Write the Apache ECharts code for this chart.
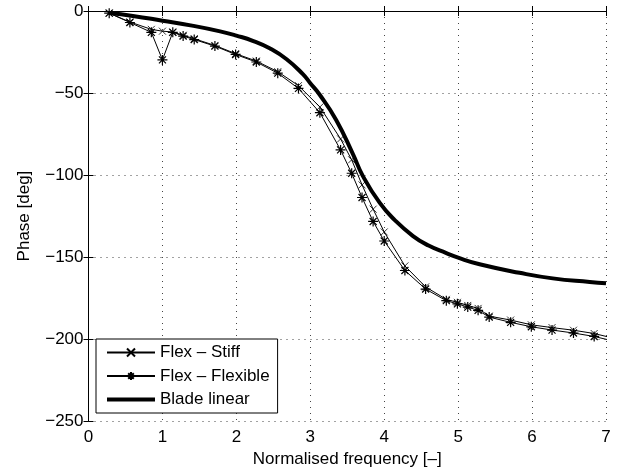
<!DOCTYPE html>
<html>
<head>
<meta charset="utf-8">
<script src="https://cdn.jsdelivr.net/npm/echarts@6/dist/echarts.min.js"></script>
<style>
  html, body { margin: 0; padding: 0; background: #fff; }
  #chart { width: 634px; height: 473px; }
</style>
</head>
<body>
<div id="chart"></div>
<script>
// Normalised frequency at which the two flex models were evaluated
const freq = [0.28, 0.56, 0.85, 1.0, 1.14, 1.28, 1.43, 1.71, 1.99, 2.27, 2.56, 2.84,
  3.13, 3.41, 3.56, 3.70, 3.85, 4.0, 4.28, 4.56, 4.84, 4.99, 5.13, 5.27, 5.42,
  5.71, 5.99, 6.27, 6.56, 6.84, 7.13];

// Phase [deg], stiff-blade flex model
const phaseStiff = [-1.3, -6.7, -11.2, -12.3, -12.8, -14.8, -16.9, -21.0, -26.0, -30.5, -37.0, -45.5,
  -58.5, -78.0, -90.7, -106.0, -120.8, -134.7, -155.4, -168.2, -175.8, -177.6, -179.5, -181.3, -186.0,
  -188.4, -191.3, -193.0, -194.6, -196.6, -199.8];

// Phase [deg], flexible-blade flex model
const phaseFlexible = [-1.3, -7.0, -13.0, -29.8, -13.0, -15.3, -17.4, -21.4, -26.5, -31.1, -37.9, -47.2,
  -62.0, -84.7, -98.9, -113.7, -128.3, -140.2, -158.2, -169.5, -176.6, -178.5, -180.5, -182.5, -186.6,
  -189.8, -192.5, -194.5, -196.3, -198.4, -201.5];

// Linear blade model (smooth response)
const bladeFreq = [0.28, 0.6, 1.0, 1.4, 1.78, 2.0, 2.23, 2.45, 2.68, 2.9, 3.0, 3.13, 3.35, 3.58,
  3.71, 3.94, 4.14, 4.39, 4.6, 4.84, 5.0, 5.29, 5.83, 6.28, 6.78, 7.0];
const bladePhase = [-1.2, -3.0, -5.9, -8.9, -12.4, -15.0, -18.3, -22.7, -29.4, -38.5, -44.0, -51.2,
  -66.4, -87.5, -100.5, -117.0, -127.3, -137.2, -143.0, -147.6, -150.4, -154.4, -159.6, -163.0,
  -165.2, -166.0];

const seriesNames = ['Flex \u2013 Stiff', 'Flex \u2013 Flexible', 'Blade linear'];
const xTicks = { min: 0, max: 7, interval: 1 };
const yTicks = { min: -250, max: 0, interval: 50 };

const pairs = (xs, ys) => xs.map((x, i) => [x, ys[i]]);

const FONT = 'Liberation Sans';
const crossPath = 'path://M0,0L10,10M10,0L0,10';
const starPath = 'path://M5,0L5,10M0,5L10,5M1.5,1.5L8.5,8.5M8.5,1.5L1.5,8.5';
const thickBar = 'path://M0,0L48,0L48,4L0,4Z';

const minusFmt = v => (v < 0 ? '\u2212' + Math.abs(v) : String(v));

const gridLine = { show: true, lineStyle: { color: '#444', type: [1, 5], width: 1 } };
const boxLine = { show: true, lineStyle: { color: '#000', width: 1 } };
const innerTick = { show: true, inside: true, length: 5, lineStyle: { color: '#000' } };

const chart = echarts.init(document.getElementById('chart'), null, { renderer: 'canvas' });
chart.setOption({
  animation: false,
  backgroundColor: '#fff',
  grid: { left: 88.5, right: 28, top: 11, bottom: 51.5, containLabel: false },
  legend: {
    orient: 'vertical',
    left: 96,
    top: 339,
    padding: [5, 8, 5, 10],
    itemGap: 6.5,
    itemWidth: 48,
    itemHeight: 10,
    backgroundColor: '#fff',
    borderColor: '#000',
    borderWidth: 1,
    borderRadius: 0,
    textStyle: { fontFamily: FONT, fontSize: 17, color: '#000' },
    data: [
      { name: seriesNames[0] },
      { name: seriesNames[1] },
      { name: seriesNames[2], icon: thickBar, itemStyle: { color: '#000', borderWidth: 0 } }
    ]
  },
  xAxis: [{
    type: 'value', ...xTicks,
    name: 'Normalised frequency [\u2013]',
    nameLocation: 'middle', nameGap: 27,
    nameTextStyle: { fontFamily: FONT, fontSize: 17, color: '#000' },
    axisLine: boxLine, axisTick: innerTick, splitLine: gridLine,
    axisLabel: { fontFamily: FONT, fontSize: 17, color: '#000', margin: 8, formatter: minusFmt }
  }, {
    type: 'value', position: 'top', ...xTicks,
    axisLine: boxLine, axisTick: innerTick, splitLine: { show: false },
    axisLabel: { show: false }
  }],
  yAxis: [{
    type: 'value', ...yTicks,
    name: 'Phase [deg]',
    nameLocation: 'middle', nameGap: 56, nameRotate: 90,
    nameTextStyle: { fontFamily: FONT, fontSize: 17, color: '#000' },
    axisLine: boxLine, axisTick: innerTick, splitLine: gridLine,
    axisLabel: { fontFamily: FONT, fontSize: 17, color: '#000', margin: 5, formatter: minusFmt }
  }, {
    type: 'value', position: 'right', ...yTicks,
    axisLine: boxLine, axisTick: innerTick, splitLine: { show: false },
    axisLabel: { show: false }
  }],
  series: [{
    name: seriesNames[0],
    type: 'line',
    data: pairs(freq, phaseStiff),
    clip: true,
    symbol: crossPath,
    symbolSize: 7,
    showSymbol: true,
    lineStyle: { color: '#000', width: 1 },
    itemStyle: { color: '#000', borderColor: '#000', borderWidth: 0.8 },
    z: 3
  }, {
    name: seriesNames[1],
    type: 'line',
    data: pairs(freq, phaseFlexible),
    clip: true,
    symbol: starPath,
    symbolSize: 10,
    showSymbol: true,
    lineStyle: { color: '#000', width: 1 },
    itemStyle: { color: '#000', borderColor: '#000', borderWidth: 1.2 },
    z: 3
  }, {
    name: seriesNames[2],
    type: 'line',
    data: pairs(bladeFreq, bladePhase),
    smooth: 0.5,
    clip: true,
    symbol: 'none',
    lineStyle: { color: '#000', width: 4 },
    itemStyle: { color: '#000' },
    z: 2
  }]
});
</script>
</body>
</html>
